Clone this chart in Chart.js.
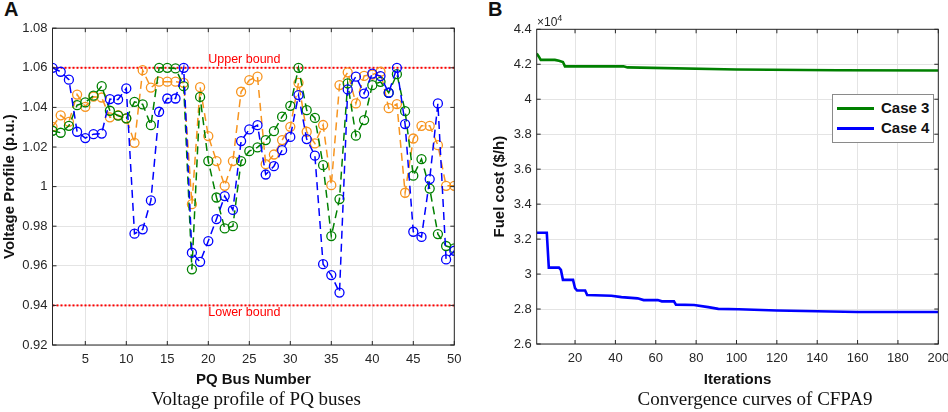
<!DOCTYPE html>
<html>
<head>
<meta charset="utf-8">
<script src="https://cdn.jsdelivr.net/npm/chart.js@4.4.1/dist/chart.umd.min.js"></script>
<style>
  html, body { margin: 0; padding: 0; background: #fff; width: 948px; height: 412px; overflow: hidden; }
  body { position: relative; font-family: 'Liberation Sans', Arial, Helvetica, sans-serif; color: #111; }
  canvas { position: absolute; top: 0; }
  #chartA { left: 0; }
  #chartB { left: 474px; }
  .panel { position: absolute; top: -2px; font-size: 20px; font-weight: bold; }
  .caption { position: absolute; top: 388px; font-family: 'Liberation Serif', 'Times New Roman', serif;
             font-size: 19px; white-space: nowrap; transform: translateX(-50%); }
  .exp { position: absolute; left: 537px; top: 13px; font-size: 12px; color: #262626; }
  .exp sup { font-size: 9px; }
  .legend { position: absolute; left: 832px; top: 94px; width: 100px; background: #fff;
            border: 1px solid #8a8a8a; padding: 3px 0 4px 0; }
  .legend .row { height: 20px; position: relative; font-weight: bold; font-size: 15px; }
  .legend .swatch { position: absolute; left: 4px; top: 9px; width: 37px; height: 3px; }
  .legend .lbl { position: absolute; left: 48px; top: 1px; line-height: 18px; }
</style>
</head>
<body>
<div class="panel" style="left:4px">A</div>
<div class="panel" style="left:488px">B</div>
<canvas id="chartA" width="474" height="412"></canvas>
<canvas id="chartB" width="474" height="412"></canvas>
<div class="exp">&times;10<sup>4</sup></div>
<div class="legend" id="legendB"></div>
<div class="caption" style="left:256px">Voltage profile of PQ buses</div>
<div class="caption" style="left:755px">Convergence curves of CFPA9</div>

<script>
// ---- panel A data: voltage at each PQ bus ----
const busNumbers = [1, 2, 3, 4, 5, 6, 7, 8, 9, 10, 11, 12, 13, 14, 15, 16, 17, 18, 19, 20,
  21, 22, 23, 24, 25, 26, 27, 28, 29, 30, 31, 32, 33, 34, 35, 36, 37, 38, 39, 40,
  41, 42, 43, 44, 45, 46, 47, 48, 49, 50];

const voltBlue = [1.060, 1.058, 1.054, 1.0277, 1.0245, 1.0265, 1.0268, 1.0442, 1.0440, 1.0496,
  0.9762, 0.9784, 0.9930, 1.0378, 1.0445, 1.0445, 1.0600, 0.9666, 0.9620, 0.9725,
  0.9836, 0.9952, 0.9882, 1.0230, 1.0289, 1.0310, 1.0061, 1.0103, 1.0184, 1.0251,
  1.0462, 1.0240, 1.0156, 0.9608, 0.9553, 0.9465, 1.0491, 1.0555, 1.0470, 1.0571,
  1.0558, 1.0474, 1.0600, 1.0316, 0.9772, 0.9746, 1.0038, 1.0420, 0.9632, 0.9676];

const voltGreen = [1.0282, 1.0272, 1.0307, 1.0411, 1.0425, 1.0459, 1.0507, 1.0383, 1.0358, 1.0345,
  1.0428, 1.0415, 1.0310, 1.0600, 1.0600, 1.0597, 1.0507, 0.9582, 1.0453, 1.0129,
  0.9945, 0.9789, 0.9800, 1.0129, 1.0179, 1.0198, 1.0235, 1.0280, 1.0353, 1.0408,
  1.0600, 1.0386, 1.0347, 1.0108, 0.9750, 0.9937, 1.0521, 1.0257, 1.0336, 1.0512,
  1.0529, 1.0474, 1.0568, 1.0381, 1.0055, 1.0139, 0.9990, 0.9760, 0.9700, 0.9688];

const voltOrange = [1.0302, 1.0360, 1.0327, 1.0465, 1.0403, 1.0454, 1.0450, 1.0350, 1.0361, 1.0344,
  1.0221, 1.0588, 1.0500, 1.0530, 1.0530, 1.0530, 1.0524, 0.9911, 1.0502, 1.0255,
  1.0129, 1.0004, 1.0129, 1.0479, 1.0538, 1.0555, 1.0113, 1.0162, 1.0235, 1.0302,
  1.0524, 1.0277, 1.0218, 1.0311, 1.0007, 1.0513, 1.0577, 1.0420, 1.0559, 1.0566,
  1.0580, 1.0396, 1.0417, 0.9969, 1.0243, 1.0307, 1.0307, 1.0209, 1.0004, 1.0004];

const upperBound = 1.06;
const lowerBound = 0.94;
const boundText = ['Upper bound', 'Lower bound'];
const boundTextBus = 24.4;

const busTicks = [5, 10, 15, 20, 25, 30, 35, 40, 45, 50];
const voltTicks = [0.92, 0.94, 0.96, 0.98, 1.00, 1.02, 1.04, 1.06, 1.08];

// ---- panel B data: fuel cost vs iteration (step points) ----
const iterCase3 = [1, 2, 3, 10, 12, 14, 15, 44, 46, 100, 150, 200];
const costCase3 = [42620, 42450, 42250, 42250, 42200, 42130, 41880, 41880, 41820, 41700, 41660, 41640];

const iterCase4 = [1, 6, 7, 12, 13, 14, 19, 20, 21, 25, 26, 38, 43, 51, 54, 61, 63, 69, 70, 79,
  86, 91, 101, 120, 140, 160, 200];
const costCase4 = [32360, 32360, 30370, 30370, 30240, 29670, 29670, 29190, 29060, 29060,
  28800, 28760, 28680, 28610, 28510, 28510, 28440, 28440, 28250, 28230,
  28110, 28010, 27990, 27920, 27870, 27830, 27830];

const iterTicks = [20, 40, 60, 80, 100, 120, 140, 160, 180, 200];
const costTicks = [26000, 28000, 30000, 32000, 34000, 36000, 38000, 40000, 42000, 44000];

const seriesLabels = ['Case 3', 'Case 4'];

// colours
const BLUE = '#0000ff';
const GREEN = '#008000';
const ORANGE = '#f7941e';
const RED = '#ff0000';
const AXIS = '#262626';
const GRID = '#e4e4e4';
const SANS = "'Liberation Sans', Arial, Helvetica, sans-serif";

function pairs(xs, ys) {
  return xs.map((x, i) => ({ x: x, y: ys[i] }));
}

// matlab style box with inward ticks
const boxPlugin = {
  id: 'box',
  afterDatasetsDraw(chart) {
    const { ctx, chartArea: a, scales } = chart;
    ctx.save();
    ctx.strokeStyle = AXIS;
    ctx.lineWidth = 1;
    ctx.strokeRect(a.left, a.top, a.right - a.left, a.bottom - a.top);
    ctx.beginPath();
    scales.x.ticks.forEach(t => {
      const px = scales.x.getPixelForValue(t.value);
      ctx.moveTo(px, a.bottom); ctx.lineTo(px, a.bottom - 4);
      ctx.moveTo(px, a.top); ctx.lineTo(px, a.top + 4);
    });
    scales.y.ticks.forEach(t => {
      const py = scales.y.getPixelForValue(t.value);
      ctx.moveTo(a.left, py); ctx.lineTo(a.left + 4, py);
      ctx.moveTo(a.right, py); ctx.lineTo(a.right - 4, py);
    });
    ctx.stroke();
    ctx.restore();
  }
};

const boundTextPlugin = {
  id: 'boundText',
  afterDatasetsDraw(chart) {
    const { ctx, scales } = chart;
    const x = scales.x.getPixelForValue(boundTextBus);
    ctx.save();
    ctx.fillStyle = RED;
    ctx.font = '12.5px ' + SANS;
    ctx.textAlign = 'center';
    ctx.textBaseline = 'middle';
    ctx.fillText(boundText[0], x, scales.y.getPixelForValue(upperBound) - 8);
    ctx.fillText(boundText[1], x, scales.y.getPixelForValue(lowerBound) + 7);
    ctx.restore();
  }
};

function markerSet(label, values, color) {
  return {
    label: label,
    data: pairs(busNumbers, values),
    borderColor: color,
    borderWidth: 1.5,
    borderDash: [8, 5],
    pointStyle: 'circle',
    pointRadius: 4.5,
    pointBorderWidth: 1.3,
    pointBorderColor: color,
    pointBackgroundColor: 'rgba(0,0,0,0)',
    tension: 0
  };
}

function boundSet(value) {
  return {
    data: [{ x: busNumbers[0], y: value }, { x: busNumbers[busNumbers.length - 1], y: value }],
    borderColor: RED,
    borderWidth: 2,
    borderDash: [2, 2],
    pointRadius: 0
  };
}

function axisFont(size, bold) {
  return { family: SANS, size: size, weight: bold ? 'bold' : 'normal' };
}

new Chart(document.getElementById('chartA'), {
  type: 'line',
  data: {
    datasets: [
      markerSet('Blue', voltBlue, BLUE),
      markerSet('Green', voltGreen, GREEN),
      markerSet('Orange', voltOrange, ORANGE),
      boundSet(upperBound),
      boundSet(lowerBound)
    ]
  },
  options: {
    responsive: false,
    animation: false,
    layout: { padding: { top: 28.2, right: 19.7, bottom: 0, left: 0 } },
    plugins: { legend: { display: false }, tooltip: { enabled: false } },
    scales: {
      x: {
        type: 'linear', min: 1, max: 50,
        afterBuildTicks: s => { s.ticks = busTicks.map(v => ({ value: v })); },
        afterFit: s => { s.height = 67; s.paddingLeft = 0; s.paddingRight = 0; },
        grid: { color: GRID, drawTicks: false },
        border: { display: false },
        ticks: { color: AXIS, font: axisFont(13), padding: 7, maxRotation: 0 },
        title: { display: true, text: 'PQ Bus Number', color: '#111', font: axisFont(15, true),
                 padding: { top: 0, bottom: 23 } }
      },
      y: {
        type: 'linear', min: 0.92, max: 1.08,
        afterBuildTicks: s => { s.ticks = voltTicks.map(v => ({ value: v })); },
        afterFit: s => { s.width = 52.5; s.paddingTop = 0; s.paddingBottom = 0; },
        grid: { color: GRID, drawTicks: false },
        border: { display: false },
        ticks: { color: AXIS, font: axisFont(13), padding: 5,
                 callback: v => String(+v.toFixed(2)) },
        title: { display: true, text: 'Voltage Profile (p.u.)', color: '#111', font: axisFont(15, true),
                 padding: { top: 1, bottom: 0 } }
      }
    }
  },
  plugins: [boxPlugin, boundTextPlugin]
});

const colorsB = [GREEN, BLUE];

new Chart(document.getElementById('chartB'), {
  type: 'line',
  data: {
    datasets: [
      { label: seriesLabels[0], data: pairs(iterCase3, costCase3), borderColor: colorsB[0],
        borderWidth: 2.6, pointRadius: 0, tension: 0 },
      { label: seriesLabels[1], data: pairs(iterCase4, costCase4), borderColor: colorsB[1],
        borderWidth: 2.6, pointRadius: 0, tension: 0 }
    ]
  },
  options: {
    responsive: false,
    animation: false,
    layout: { padding: { top: 29.3, right: 9.7, bottom: 0, left: 0 } },
    plugins: { legend: { display: false }, tooltip: { enabled: false } },
    scales: {
      x: {
        type: 'linear', min: 1, max: 200,
        afterBuildTicks: s => { s.ticks = iterTicks.map(v => ({ value: v })); },
        afterFit: s => { s.height = 68; s.paddingLeft = 0; s.paddingRight = 0; },
        grid: { color: GRID, drawTicks: false },
        border: { display: false },
        ticks: { color: AXIS, font: axisFont(13), padding: 7, maxRotation: 0 },
        title: { display: true, text: 'Iterations', color: '#111', font: axisFont(15, true),
                 padding: { top: 0, bottom: 23 } }
      },
      y: {
        type: 'linear', min: 26000, max: 44000,
        afterBuildTicks: s => { s.ticks = costTicks.map(v => ({ value: v })); },
        afterFit: s => { s.width = 62.7; s.paddingTop = 0; s.paddingBottom = 0; },
        grid: { color: GRID, drawTicks: false },
        border: { display: false },
        ticks: { color: AXIS, font: axisFont(13), padding: 5,
                 callback: v => String(+(v / 1e4).toFixed(1)) },
        title: { display: true, text: 'Fuel cost ($/h)', color: '#111', font: axisFont(15, true),
                 padding: { top: 17, bottom: 0 } }
      }
    }
  },
  plugins: [boxPlugin]
});

// legend box for panel B
const legendEl = document.getElementById('legendB');
seriesLabels.forEach((name, i) => {
  const row = document.createElement('div');
  row.className = 'row';
  row.innerHTML = '<span class="swatch" style="background:' + colorsB[i] + '"></span>' +
                  '<span class="lbl">' + name + '</span>';
  legendEl.appendChild(row);
});
</script>
</body>
</html>
